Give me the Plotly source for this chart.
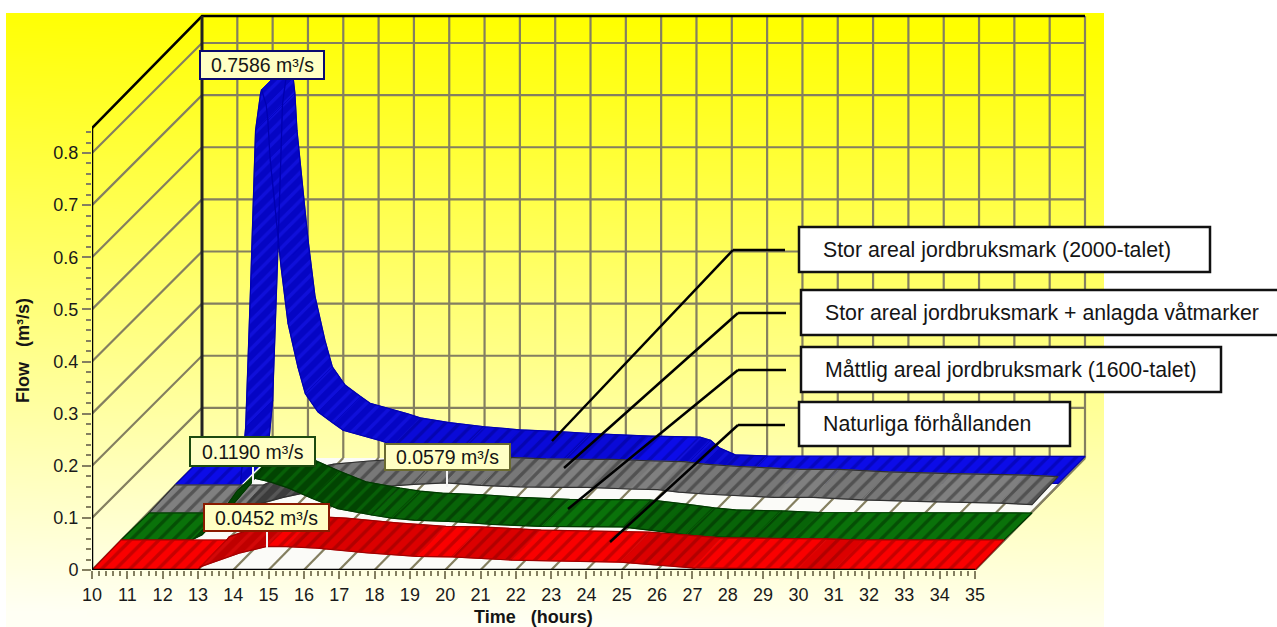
import base64, struct, zlib
import plotly.graph_objects as go

# ---------- data ----------
red_t = [10, 13, 13.06, 14.2, 14.95, 15.5, 16.37, 17.8, 19.2, 20.2, 21.9, 24.95, 26.3, 27, 30, 31, 35]
red_v = [0, 0, .006, .033, .0452, .045, .042, .033, .026, .025, .019, .015, .008, .004, .002, 0, 0]
green_t = [10, 12, 12.3, 12.9, 13.3, 13.74, 14.2, 14.73, 15.4, 16.14, 17.1, 17.67, 18.3, 19.46, 20.5, 21.9, 24.18, 25.2, 26, 26.6, 27.9, 29, 35]
green_v = [0, 0, .01, .058, .095, .119, .112, .1, .08, .06, .048, .042, .038, .035, .03, .026, .025, .017, .01, .006, .004, .001, 0]
gray_t = [10, 12.5, 13, 13.8, 14.5, 15.5, 16.5, 17.5, 18.4, 19.4, 20.5, 21.6, 22.4, 23.6, 24.4, 25, 25.85, 27.7, 28.8, 30.2, 32, 34.1, 35]
gray_v = [0, 0, .015, .03, .04, .046, .05, .055, .0579, .053, .05, .049, .049, .046, .045, .04, .036, .03, .03, .025, .022, .019, .016]
blue_t = [10, 11.85, 12, 12.14, 12.28, 12.42, 12.45, 12.58, 12.63, 12.69, 13, 13.2, 13.48, 13.69, 14.05, 14.49, 14.76, 15.82, 16.18, 17, 18, 19, 20, 21, 22, 22.7, 24.1, 24.4, 24.66, 25.1, 26, 35]
blue_v = [0, 0, .11, .38, .68, .75, .7586, .73, .70, .628, .42, .31, .226, .175, .14, .118, .105, .085, .077, .068, .06, .054, .051, .047, .044, .042, .04, .034, .019, .006, .004, .003]
hours = list(range(10, 36))
flow_ticks = [0, .1, .2, .3, .4, .5, .6, .7, .8]
flow_minor = [round(i * .02, 2) for i in range(0, 43)]
hour_minor = [round(10 + i * .2, 1) for i in range(0, 126)]
peak_labels = ["0.7586 m³/s", "0.1190 m³/s", "0.0579 m³/s", "0.0452 m³/s"]
legend_names = ["Stor areal jordbruksmark (2000-talet)",
                "Stor areal jordbruksmark + anlagda våtmarker",
                "Måttlig areal jordbruksmark (1600-talet)",
                "Naturliga förhållanden"]

# ---------- layout geometry ----------
W, H = 1277, 627
L, R, T, B = 92, 1104, 13, 570
PXH = 883 / 25
PXV = 442 / .848
TOP = .848
DX, DY = 110, 112
XMAX = 10 + (R - L) / PXH
YMAX = (B - T) / PXV


def sx(px):
    return px / PXH


def sy(px):
    return px / PXV


def pfx(px):
    return (px - L) / (R - L)


def pfy(py):
    return (B - py) / (B - T)


GRID = "#847f60"
fig = go.Figure()


def add_line(x, y, color=GRID, width=2.2):
    fig.add_trace(go.Scatter(x=x, y=y, mode="lines", line=dict(color=color, width=width, simplify=False),
                             hoverinfo="skip", showlegend=False))


# floor
fig.add_trace(go.Scatter(
    x=[10, 35, 35 + sx(DX), 10 + sx(DX), 10], y=[0, 0, sy(DY), sy(DY), 0],
    mode="lines", fill="toself", fillcolor="#fbfbf8", line=dict(width=0),
    hoverinfo="skip", showlegend=False))

# walls grid
for h in hours:
    add_line([h, h + sx(DX)], [0, sy(DY)])
    if h > 10:
        add_line([h + sx(DX), h + sx(DX)], [sy(DY), TOP + sy(DY)])
for v in flow_ticks[1:]:
    add_line([10, 10 + sx(DX), 35 + sx(DX)], [v, v + sy(DY - 2), v + sy(DY - 2)])
add_line([35, 35 + sx(DX)], [0, sy(DY)])
add_line([10, 10 + sx(DX), 35 + sx(DX)], [TOP, TOP + sy(DY), TOP + sy(DY)], "#000000", 2.5)
add_line([10 + sx(DX), 10 + sx(DX)], [sy(DY), TOP + sy(DY)], "#222222", 3)


# ribbons
def ribbon(t, v, f, b, colors, fg, edge):
    groups = {0: ([], []), 1: ([], []), 2: ([], [])}
    fx, fy, bx, by = sx(f[0]), sy(f[1]), sx(b[0]), sy(b[1])
    for i in range(len(t) - 1):
        slope = abs(v[i + 1] - v[i]) / (t[i + 1] - t[i])
        k = 0 if slope < .0015 else (1 if slope < .011 else 2)
        gx, gy = groups[k]
        qx = [t[i] + fx, t[i + 1] + fx, t[i + 1] + bx, t[i] + bx]
        qy = [v[i] + fy, v[i + 1] + fy, v[i + 1] + by, v[i] + by]
        area = sum(qx[j] * qy[(j + 1) % 4] - qx[(j + 1) % 4] * qy[j] for j in range(4))
        if area < 0:  # one winding for all quads, so overlaps stay filled
            qx.reverse()
            qy.reverse()
        gx += qx + [qx[0], None]
        gy += qy + [qy[0], None]
    for k, (gx, gy) in groups.items():
        if gx:
            fig.add_trace(go.Scatter(
                x=gx, y=gy, mode="lines", fill="toself",
                line=dict(color=colors[k], width=0.8, simplify=False),
                fillcolor=colors[k],
                fillpattern=dict(shape="/", bgcolor=colors[k], fgcolor=fg[k], size=10, solidity=.34),
                hoverinfo="skip", showlegend=False))
    ox = [a + fx for a in t] + [a + bx for a in reversed(t)] + [t[0] + fx]
    oy = [a + fy for a in v] + [a + by for a in reversed(v)] + [v[0] + fy]
    add_line(ox, oy, edge, 1.2)


ribbon(blue_t, blue_v, (83, 85), (110, 112), ["#0c0ce8", "#0a0ad8", "#0505c4"],
       ["#000098", "#00008c", "#1a1af0"], "#0000b0")
ribbon(gray_t, gray_v, (57, 57), (83, 85), ["#808080", "#787878", "#3c3c3c"],
       ["#2a2a2a", "#2a2a2a", "#707070"], "#303030")
ribbon(green_t, green_v, (29, 30), (57, 57), ["#0a720a", "#086408", "#024402"],
       ["#002c00", "#002600", "#0b7a0b"], "#003800")
ribbon(red_t, red_v, (0, 0), (29, 30), ["#fa0000", "#dc0000", "#bf0000"],
       ["#940000", "#880000", "#e81010"], "#a00000")

# front axis lines, drawn through the same scales
add_line([10, 10], [0, TOP], "#000000", 2.5)
add_line([10, 35], [0, 0], "#000000", 2.5)

# ---------- callouts: boxes, leaders and labels ----------
shapes, annos = [], []


def box(x0, y0, x1, y1, fill, border, width=2):
    shapes.append(dict(type="rect", xref="paper", yref="paper", x0=pfx(x0), x1=pfx(x1), y0=pfy(y1), y1=pfy(y0),
                       fillcolor=fill, line=dict(color=border, width=width), layer="above"))


def seg(x0, y0, x1, y1, color="#000000", width=2.5):
    shapes.append(dict(type="line", xref="paper", yref="paper", x0=pfx(x0), x1=pfx(x1), y0=pfy(y0), y1=pfy(y1),
                       line=dict(color=color, width=width), layer="above"))


def text(x, y, s, anchor="left", size=19.5, bold=False, angle=0):
    annos.append(dict(xref="paper", yref="paper", x=pfx(x), y=pfy(y), text=s, showarrow=False, xanchor=anchor,
                      yanchor="middle", textangle=angle,
                      font=dict(family="Liberation Sans", size=size, color="#151515",
                                weight="bold" if bold else "normal")))


for (x0, y0, x1, y1, x2, y2) in [(552, 441, 733, 250, 785, 250), (564, 468, 738, 313, 786, 313),
                                 (568, 509, 738, 370, 786, 370), (610, 542, 738, 425, 785, 425)]:
    seg(x0, y0, x1, y1)
    seg(x1, y1, x2, y2)

for (x0, y0, x1, y1), (tx, ty), name in zip(
        [(799, 227, 1210, 272), (801, 290, 1285, 335), (801, 347, 1221, 392), (799, 402, 1070, 446)],
        [(821, 250), (823, 313), (823, 370), (821, 424)], legend_names):
    box(x0, y0, x1, y1, "#ffffff", "#111111", 2.5)
    text(tx, ty, name, size=21.3)

for x, y0, y1 in [(253, 466, 483), (447, 470, 487), (267, 531, 548)]:
    seg(x, y0, x, y1, "#f4f4f4", 2)

for (x0, y0, x1, y1), border, s in zip(
        [(200, 51, 324, 79), (190, 437, 315, 466), (385, 444, 510, 470), (204, 504, 329, 531)],
        ["#0a0a70", "#1c4a10", "#6a6a30", "#8a1a00"], peak_labels):
    box(x0, y0, x1, y1, "#ffffc4", border, 2)
    text((x0 + x1) / 2, (y0 + y1) / 2, s, "center", 19.5)

text(533, 617, "Time\u00a0\u00a0\u00a0(hours)", "center", 18, True)
text(23, 351, "Flow\u00a0\u00a0\u00a0(m³/s)", "center", 18, True, -90)

# ---------- background gradient ----------
iw, ih = 48, 96
raw = b""
for j in range(ih):
    raw += b"\x00"
    for i in range(iw):
        f = j / (ih - 1) + .05 * (.5 - i / (iw - 1))
        f = max(0, min(1, f))
        raw += bytes([255, 255, int(244 * f)])


def chunk(tag, data):
    c = struct.pack(">I", len(data)) + tag + data
    return c + struct.pack(">I", zlib.crc32(tag + data) & 0xffffffff)


png = b"\x89PNG\r\n\x1a\n" + chunk(b"IHDR", struct.pack(">IIBBBBB", iw, ih, 8, 2, 0, 0, 0)) \
    + chunk(b"IDAT", zlib.compress(raw)) + chunk(b"IEND", b"")
uri = "data:image/png;base64," + base64.b64encode(png).decode()

axfont = dict(family="Liberation Sans", size=18, color="#1a1a1a")
fig.update_layout(
    width=W, height=H, margin=dict(l=L, r=W - R, t=T, b=H - B, autoexpand=False),
    paper_bgcolor="#ffffff", plot_bgcolor="rgba(0,0,0,0)", showlegend=False,
    images=[dict(source=uri, xref="paper", yref="paper", x=pfx(6), y=pfy(13),
                 sizex=(1104 - 6) / (R - L), sizey=(627 - 13) / (B - T),
                 xanchor="left", yanchor="top", sizing="stretch", layer="below")],
    shapes=shapes, annotations=annos,
    xaxis=dict(range=[10, XMAX], tickvals=hours, ticktext=[str(h) for h in hours], ticks="outside",
               ticklen=8, tickwidth=2, tickcolor=GRID, tickfont=axfont, showgrid=False, zeroline=False,
               showline=False, tickangle=0,
               minor=dict(tickvals=hour_minor, ticks="outside", ticklen=5, tickwidth=2, tickcolor=GRID, showgrid=False)),
    yaxis=dict(range=[0, YMAX], tickvals=flow_ticks, ticktext=["0", "0.1", "0.2", "0.3", "0.4", "0.5", "0.6", "0.7", "0.8"],
               ticks="outside", ticklen=9, tickwidth=2, tickcolor=GRID, tickfont=axfont, showgrid=False,
               zeroline=False, showline=False,
               minor=dict(tickvals=flow_minor, ticks="outside", ticklen=5, tickwidth=2, tickcolor=GRID, showgrid=False)),
)

fig.write_html("out.html", config={"displayModeBar": False},
               post_script="document.body.style.margin='0';document.body.style.overflow='hidden';")
